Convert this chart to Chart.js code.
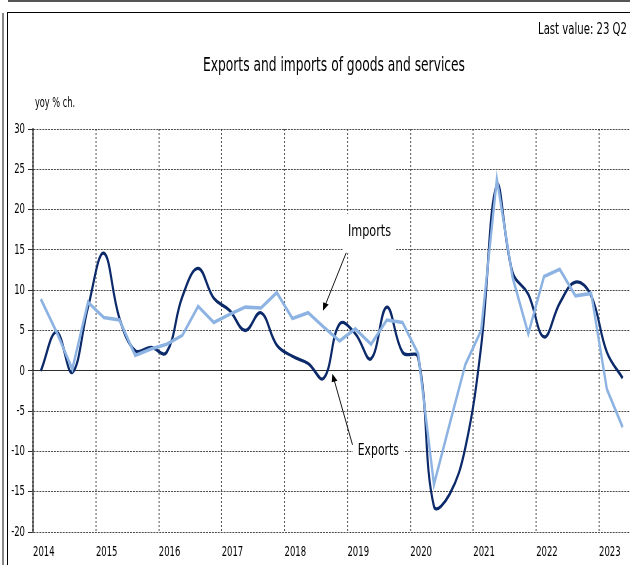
<!DOCTYPE html>
<html>
<head>
<meta charset="utf-8">
<script src="https://cdn.jsdelivr.net/npm/chart.js@4.4.0/dist/chart.umd.min.js"></script>
<style>
  html, body { margin: 0; padding: 0; background: #fff; }
  body { width: 630px; height: 565px; position: relative; overflow: hidden; }
  #topRule { position: absolute; left: 8px; top: 0; width: 622px; height: 2px; background: #555; }
  #leftRule { position: absolute; left: 2px; top: 13px; width: 2px; height: 552px; background: #888; }
  #frame { position: absolute; left: 7px; top: 12px; width: 640px; height: 570px; border: 1.5px solid #000; }
  #wrap { position: absolute; left: 0; top: 0; width: 970px; height: 565px; }
</style>
</head>
<body>
<div id="topRule"></div>
<div id="leftRule"></div>
<div id="frame"></div>
<div id="wrap"><canvas id="tradeChart"></canvas></div>
<script>
// Exports and imports of goods and services, yoy % change, quarterly

const quarters = [
    '2014Q1', '2014Q2', '2014Q3', '2014Q4', '2015Q1', '2015Q2', '2015Q3', '2015Q4',
    '2016Q1', '2016Q2', '2016Q3', '2016Q4', '2017Q1', '2017Q2', '2017Q3', '2017Q4',
    '2018Q1', '2018Q2', '2018Q3', '2018Q4', '2019Q1', '2019Q2', '2019Q3', '2019Q4',
    '2020Q1', '2020Q2', '2020Q3', '2020Q4', '2021Q1', '2021Q2', '2021Q3', '2021Q4',
    '2022Q1', '2022Q2', '2022Q3', '2022Q4', '2023Q1', '2023Q2'
];

const exportsYoY = [
    0.0, 4.8, -0.2, 7.9, 14.6, 6.5, 2.5, 2.9,
    2.3, 9.2, 12.7, 9.0, 7.5, 5.0, 7.2, 3.2,
    1.8, 0.9, -0.9, 5.8, 4.6, 1.5, 7.9, 2.3,
    1.6, -16.8, -15.3, -9.5, 3.0, 23.0, 12.2, 9.5,
    4.2, 8.4, 11.0, 9.3, 2.3, -0.9
];

const importsYoY = [
    8.9, 4.8, 0.2, 8.5, 6.6, 6.3, 1.9, 2.7,
    3.3, 4.4, 8.0, 6.0, 7.0, 7.9, 7.8, 9.7,
    6.5, 7.2, 5.4, 3.7, 5.2, 3.3, 6.3, 6.0,
    2.1, -14.1, -6.6, 0.8, 5.0, 23.8, 11.6, 4.6,
    11.7, 12.6, 9.3, 9.6, -2.3, -7.0
];

const yearTicks = ['2014', '2015', '2016', '2017', '2018', '2019', '2020', '2021', '2022', '2023'];
const yTicks = [30, 25, 20, 15, 10, 5, 0, -5, -10, -15, -20];

// the original artwork is squeezed sideways; draw wide and compress by SX
const SX = 0.65;
const FONT = "'DejaVu Sans Condensed', 'DejaVu Sans', sans-serif";

// quarter label -> position on a year axis (mid-quarter)
function quarterToX(label) {
    const year = parseInt(label.slice(0, 4), 10);
    const q = parseInt(label.slice(5), 10);
    return year + (q - 0.5) / 4;
}

function toPoints(values) {
    return values.map((v, i) => ({ x: quarterToX(quarters[i]), y: v }));
}

// callouts, positioned in data units
const callouts = [
    { text: 'Imports', x: 2019.35, y: 17.25, width: 43, fromX: 2018.98, fromY: 14.64, toX: 2018.61, toY: 7.44 },
    { text: 'Exports', x: 2019.49, y: -9.93, width: 41, fromX: 2019.08, fromY: -9.18, toX: 2018.76, toY: -0.37 }
];

// fill text squeezed to a target on-screen width (x, width in screen px)
function fittedText(ctx, text, x, y, size, width, align) {
    ctx.font = size + 'px ' + FONT;
    const k = (width / SX) / ctx.measureText(text).width;
    ctx.save();
    ctx.translate(x / SX, y);
    ctx.scale(k, 1);
    ctx.textAlign = align;
    ctx.textBaseline = 'middle';
    ctx.fillText(text, 0, 0);
    ctx.restore();
}

const squeezePlugin = {
    id: 'squeeze',
    beforeDraw(chart) {
        chart.ctx.save();
        chart.ctx.scale(SX, 1);
    },
    beforeDatasetsDraw(chart) {
        const ctx = chart.ctx;
        const xs = chart.scales.x, ys = chart.scales.y;
        ctx.save();
        callouts.forEach(c => {
            const cx = xs.getPixelForValue(c.x);
            const cy = ys.getPixelForValue(c.y);
            const half = (c.width / 2 + 5) / SX;
            ctx.fillStyle = '#fff';
            ctx.fillRect(cx - half, cy - 18, half * 2, 38);
            ctx.fillStyle = '#000';
            fittedText(ctx, c.text, cx * SX, cy, 16, c.width, 'center');

            const x1 = xs.getPixelForValue(c.fromX), y1 = ys.getPixelForValue(c.fromY);
            const x2 = xs.getPixelForValue(c.toX), y2 = ys.getPixelForValue(c.toY);
            // arrow in screen space so the head is not squeezed
            ctx.save();
            ctx.scale(1 / SX, 1);
            const sx1 = x1 * SX, sx2 = x2 * SX;
            const ang = Math.atan2(y2 - y1, sx2 - sx1);
            ctx.strokeStyle = '#000';
            ctx.lineWidth = 0.9;
            ctx.beginPath();
            ctx.moveTo(sx1, y1);
            ctx.lineTo(sx2 - 5 * Math.cos(ang), y2 - 5 * Math.sin(ang));
            ctx.stroke();
            ctx.beginPath();
            ctx.moveTo(sx2, y2);
            ctx.lineTo(sx2 - 8 * Math.cos(ang) + 3 * Math.sin(ang), y2 - 8 * Math.sin(ang) - 3 * Math.cos(ang));
            ctx.lineTo(sx2 - 8 * Math.cos(ang) - 3 * Math.sin(ang), y2 - 8 * Math.sin(ang) + 3 * Math.cos(ang));
            ctx.closePath();
            ctx.fillStyle = '#000';
            ctx.fill();
            ctx.restore();
        });
        ctx.restore();
    },
    afterDraw(chart) {
        const ctx = chart.ctx;
        ctx.fillStyle = '#000';
        fittedText(ctx, 'Last value: 23 Q2', 627, 30, 15, 89, 'right');
        fittedText(ctx, 'Exports and imports of goods and services', 334, 66, 19, 262, 'center');
        fittedText(ctx, 'yoy % ch.', 35, 103, 14, 40, 'left');
        ctx.restore();
    }
};

const ctx = document.getElementById('tradeChart').getContext('2d');
new Chart(ctx, {
    type: 'line',
    data: {
        datasets: [
            {
                label: 'Imports',
                data: toPoints(importsYoY),
                borderColor: '#8db3e2',
                borderWidth: 3.6,
                pointRadius: 0,
                tension: 0,
                fill: false
            },
            {
                label: 'Exports',
                data: toPoints(exportsYoY),
                borderColor: '#0c2a6a',
                borderWidth: 3.3,
                pointRadius: 0,
                tension: 0.4,
                fill: false
            }
        ]
    },
    options: {
        responsive: true,
        maintainAspectRatio: false,
        animation: false,
        layout: { padding: { top: 129, right: 0, bottom: 0, left: 0 } },
        plugins: {
            legend: { display: false },
            tooltip: { enabled: false }
        },
        scales: {
            x: {
                type: 'linear',
                min: 2014,
                max: 2023.5,
                afterBuildTicks: scale => {
                    scale.ticks = yearTicks.map(y => ({ value: Number(y) }));
                },
                afterFit: scale => { scale.height = 33; },
                ticks: {
                    align: 'start',
                    padding: 11.6,
                    color: '#000',
                    font: { family: FONT, size: 14.5 },
                    callback: value => String(value)
                },
                grid: {
                    color: '#555',
                    lineWidth: 1 / SX,
                    drawTicks: false
                },
                border: { display: false, dash: [2, 2] }
            },
            y: {
                min: -20,
                max: 30,
                afterBuildTicks: scale => {
                    scale.ticks = yTicks.map(v => ({ value: v }));
                },
                afterFit: scale => { scale.width = 33 / SX; },
                ticks: {
                    padding: 4.6,
                    color: '#000',
                    font: { family: FONT, size: 14.5 }
                },
                grid: {
                    color: ctx => (ctx.tick && ctx.tick.value === 0 ? '#000' : '#222'),
                    lineWidth: 1,
                    tickLength: 7.7,
                    tickColor: '#000',
                    tickBorderDash: []
                },
                border: {
                    display: true,
                    color: '#000',
                    width: 1 / SX,
                    dash: ctx => (ctx.tick && ctx.tick.value === 0 ? [] : [3, 1.5])
                }
            }
        }
    },
    plugins: [squeezePlugin]
});
</script>
</body>
</html>
